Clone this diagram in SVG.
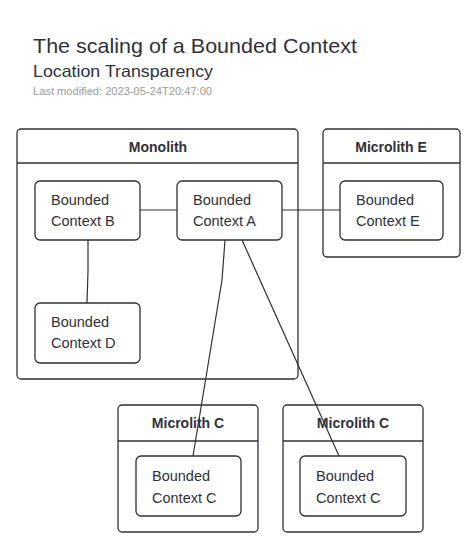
<svg xmlns="http://www.w3.org/2000/svg" width="471" height="543" viewBox="0 0 471 543">
<style>
  text { font-family: "Liberation Sans", Arial, sans-serif; fill: #2f3138; }
  .title { font-size: 21px; }
  .sub { font-size: 16.5px; }
  .meta { font-size: 10.5px; fill: #9a9a9a; }
  .box { fill: #ffffff; stroke: #2f3138; stroke-width: 1.3; }
  .hdr { stroke: #2f3138; stroke-width: 1.3; fill: none; }
  .ctitle { font-size: 14px; font-weight: bold; text-anchor: middle; }
  .lbl { font-size: 14.5px; }
  .conn { stroke: #2f3138; stroke-width: 1.2; fill: none; }
</style>
<rect width="471" height="543" fill="#ffffff"/>
<text class="title" x="33" y="53" textLength="324" lengthAdjust="spacingAndGlyphs">The scaling of a Bounded Context</text>
<text class="sub" x="33" y="77" textLength="180" lengthAdjust="spacingAndGlyphs">Location Transparency</text>
<text class="meta" x="33" y="95" textLength="179" lengthAdjust="spacingAndGlyphs">Last modified: 2023-05-24T20:47:00</text>

<g id="monolith">
  <rect class="box" x="17" y="129" width="281" height="250" rx="4"/>
  <line class="hdr" x1="17" y1="163" x2="298" y2="163"/>
  <text class="ctitle" x="158" y="152">Monolith</text>
</g>
<g id="microlith-e">
  <rect class="box" x="323" y="129" width="137" height="128" rx="4"/>
  <line class="hdr" x1="323" y1="163" x2="460" y2="163"/>
  <text class="ctitle" x="391" y="152">Microlith E</text>
</g>
<g id="microlith-c1">
  <rect class="box" x="118" y="405" width="140" height="127" rx="4"/>
  <line class="hdr" x1="118" y1="441" x2="258" y2="441"/>
  <text class="ctitle" x="188" y="428">Microlith C</text>
</g>
<g id="microlith-c2">
  <rect class="box" x="283" y="405" width="140" height="127" rx="4"/>
  <line class="hdr" x1="283" y1="441" x2="423" y2="441"/>
  <text class="ctitle" x="353" y="428">Microlith C</text>
</g>

<g id="connectors">
  <line class="conn" x1="140" y1="210" x2="177" y2="210"/>
  <line class="conn" x1="282" y1="210" x2="340" y2="210"/>
  <polyline class="conn" points="88,240 88,271 87,303"/>
  <polyline class="conn" points="225,240 222,280 193,456"/>
  <line class="conn" x1="242" y1="240" x2="339" y2="456"/>
</g>

<g id="bc-b">
  <rect class="box" x="35" y="181" width="105" height="59" rx="5"/>
  <text class="lbl" x="51" y="205">Bounded</text>
  <text class="lbl" x="51" y="226">Context B</text>
</g>
<g id="bc-a">
  <rect class="box" x="177" y="181" width="105" height="59" rx="5"/>
  <text class="lbl" x="193" y="205">Bounded</text>
  <text class="lbl" x="193" y="226">Context A</text>
</g>
<g id="bc-e">
  <rect class="box" x="340" y="181" width="103" height="59" rx="5"/>
  <text class="lbl" x="356" y="205">Bounded</text>
  <text class="lbl" x="356" y="226">Context E</text>
</g>
<g id="bc-d">
  <rect class="box" x="35" y="303" width="105" height="60" rx="5"/>
  <text class="lbl" x="51" y="327">Bounded</text>
  <text class="lbl" x="51" y="348">Context D</text>
</g>
<g id="bc-c1">
  <rect class="box" x="136" y="456" width="105" height="60" rx="5"/>
  <text class="lbl" x="152" y="481">Bounded</text>
  <text class="lbl" x="152" y="503">Context C</text>
</g>
<g id="bc-c2">
  <rect class="box" x="300" y="456" width="106" height="60" rx="5"/>
  <text class="lbl" x="316" y="481">Bounded</text>
  <text class="lbl" x="316" y="503">Context C</text>
</g>
</svg>
